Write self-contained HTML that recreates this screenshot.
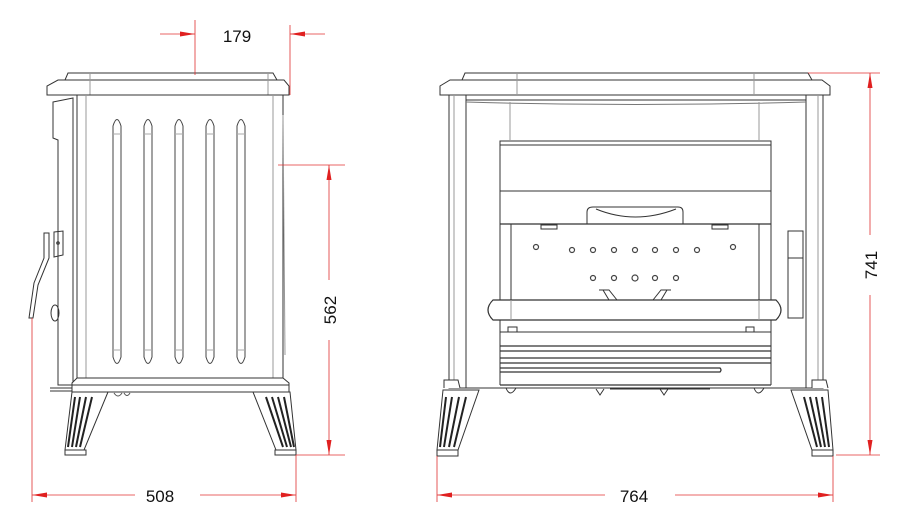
<!DOCTYPE html>
<html><head><style>html,body{margin:0;padding:0;background:#fff}svg{display:block}</style></head>
<body>
<svg width="912" height="523" viewBox="0 0 912 523" xmlns="http://www.w3.org/2000/svg" font-family="Liberation Sans, sans-serif">
<!-- ===== LEFT (side) VIEW ===== -->
<g fill="none" stroke="#333" stroke-width="1">
  <path d="M65,80 L68,73 L273,73 L277,80 Z" fill="#fff"/>
  <path d="M47,95 L47,86 L58,80 L284,80 L289,86 L289,95 Z" fill="#fff"/>
  <line x1="90" y1="73" x2="90" y2="95" stroke="#999"/>
  <line x1="268" y1="73" x2="268" y2="95" stroke="#999"/>
  <rect x="77" y="95" width="206" height="283"/>
  <line x1="86" y1="95" x2="86" y2="378" stroke="#999"/>
  <line x1="273" y1="95" x2="273" y2="378" stroke="#999"/>
  <line x1="283" y1="115" x2="285" y2="355" stroke="#999"/>
  <path d="M53,102 L73,98 L73,385 L58,385 L58,140 L53,138 Z"/>
  <line x1="77" y1="98" x2="77" y2="385"/>
  <path d="M44,233 L49,233 L49,258 L38,285 L33,318 L29,318 L34,283 L44,258 Z" fill="#fff"/>
  <path d="M54,232 L63,231 L63,255 L54,257 Z"/>
  <circle cx="58" cy="243" r="1.3"/>
  <ellipse cx="55" cy="313" rx="4" ry="8"/>
  <g stroke="#444">
    <path d="M113,357 L113,126 Q117,113 121,126 L121,357 Q117,370 113,357 Z"/>
    <path d="M144,357 L144,126 Q148,113 152,126 L152,357 Q148,370 144,357 Z"/>
    <path d="M175,357 L175,126 Q179,113 183,126 L183,357 Q179,370 175,357 Z"/>
    <path d="M206,357 L206,126 Q210,113 214,126 L214,357 Q210,370 206,357 Z"/>
    <path d="M237,357 L237,126 Q241,113 245,126 L245,357 Q241,370 237,357 Z"/>
    <g stroke="#aaa"><line x1="113" y1="134" x2="121" y2="134"/><line x1="144" y1="134" x2="152" y2="134"/><line x1="175" y1="134" x2="183" y2="134"/><line x1="206" y1="134" x2="214" y2="134"/><line x1="237" y1="134" x2="245" y2="134"/>
    <line x1="113" y1="350" x2="121" y2="350"/><line x1="144" y1="350" x2="152" y2="350"/><line x1="175" y1="350" x2="183" y2="350"/><line x1="206" y1="350" x2="214" y2="350"/><line x1="237" y1="350" x2="245" y2="350"/></g>
  </g>
  <path d="M72,392 L72,383 L77,378 L283,378 L289,383 L289,392 Z" fill="#fff"/>
  <line x1="72" y1="385" x2="289" y2="385"/>
  <line x1="50" y1="388" x2="72" y2="388"/><line x1="50" y1="391" x2="72" y2="391"/>
  <path d="M72,392 L108,392 L84,450 L65,450 Z" fill="#fff"/>
  <rect x="65" y="450" width="21" height="5"/>
  <path d="M253,392 L290,392 L296,450 L276,450 Z" fill="#fff"/>
  <rect x="275" y="450" width="21" height="5"/>
  <g stroke="#222" stroke-width="2">
    <line x1="75" y1="397" x2="68" y2="447"/><line x1="80" y1="397" x2="72" y2="447"/><line x1="86" y1="397" x2="76" y2="447"/><line x1="92" y1="397" x2="80" y2="447"/>
    <line x1="266" y1="397" x2="283" y2="447"/><line x1="272" y1="397" x2="287" y2="447"/><line x1="278" y1="397" x2="291" y2="447"/><line x1="284" y1="397" x2="294" y2="447"/>
  </g>
  <path d="M114,393 q4,6 8,0 M124,393 q3,5 6,0" stroke="#555"/>
</g>
<!-- ===== RIGHT (front) VIEW ===== -->
<g fill="none" stroke="#333" stroke-width="1">
  <path d="M462,80 L465,73 L808,73 L812,80 Z" fill="#fff"/>
  <path d="M440,95 L440,86 L450,80 L822,80 L830,86 L830,95 Z" fill="#fff"/>
  <line x1="517" y1="73" x2="517" y2="95" stroke="#999"/>
  <line x1="754" y1="73" x2="754" y2="95" stroke="#999"/>
  <rect x="449" y="95" width="17" height="293"/>
  <line x1="454" y1="95" x2="454" y2="385" stroke="#999"/>
  <rect x="806" y="95" width="17" height="293"/>
  <line x1="818" y1="95" x2="818" y2="385" stroke="#999"/>
  <path d="M466,100 L806,100" /><path d="M466,102 Q636,107 806,102" stroke="#777"/>
  <line x1="510" y1="102" x2="510" y2="140" stroke="#999"/>
  <line x1="759" y1="102" x2="759" y2="140" stroke="#999"/>
  <path d="M500,385 L500,141 L771,141 L771,385"/>
  <line x1="500" y1="145" x2="771" y2="145"/>
  <line x1="500" y1="191" x2="771" y2="191"/>
  <line x1="500" y1="224" x2="771" y2="224" stroke-width="1.3"/>
  <path d="M587,224 L587,212 Q587,207 593,207 L678,207 Q683,207 683,212 L683,224"/>
  <path d="M596,209 Q635,225 676,209"/>
  <rect x="511" y="224" width="248" height="76"/>
  <rect x="541" y="225" width="16" height="4"/><rect x="712" y="225" width="16" height="4"/>
  <g fill="#fff" stroke="#444" stroke-width="1.2">
    <circle cx="536" cy="247" r="2.5"/><circle cx="572" cy="250" r="2.5"/><circle cx="593" cy="250" r="2.5"/><circle cx="614" cy="250" r="2.5"/><circle cx="635" cy="250" r="2.5"/><circle cx="655" cy="250" r="2.5"/><circle cx="676" cy="250" r="2.5"/><circle cx="697" cy="250" r="2.5"/><circle cx="733" cy="247" r="2.5"/>
    <circle cx="593" cy="278" r="2.5"/><circle cx="614" cy="278" r="2.5"/><circle cx="635" cy="278" r="3"/><circle cx="655" cy="278" r="2.5"/><circle cx="676" cy="278" r="2.5"/>
  </g>
  <path d="M599,290 L609,290 L617,300 M603,290 L609,300 M671,290 L661,290 L653,300 M667,290 L661,300"/>
  <path d="M493,300 L776,300 Q786,310 776,320 L493,320 Q483,310 493,300 Z" fill="#fff" stroke-width="1.2"/>
  <line x1="511" y1="300" x2="511" y2="320" stroke="#999"/><line x1="759" y1="300" x2="759" y2="320" stroke="#999"/>
  <rect x="788" y="231" width="15" height="87" fill="#fff"/>
  <line x1="788" y1="258" x2="803" y2="258"/>
  <line x1="500" y1="332" x2="771" y2="332"/>
  <path d="M508,332 L508,327 L517,327 L517,332 M746,332 L746,327 L754,327 L754,332"/>
  <g stroke-width="1.3">
  <line x1="500" y1="346" x2="771" y2="346"/><line x1="500" y1="351" x2="771" y2="351"/>
  <line x1="500" y1="358" x2="771" y2="358"/><line x1="500" y1="363" x2="771" y2="363"/>
  <path d="M500,368 L720,368 Q722,370 720,372 L500,372"/>
  <line x1="500" y1="385" x2="771" y2="385"/>
  </g>
  <line x1="466" y1="388" x2="806" y2="388"/>
  <path d="M506,388 q4,10 10,0 M754,388 q4,10 10,0 M596,389 l4,6 l4,-6 M660,389 l4,6 l4,-6 M610,389 L710,389"/>
  <path d="M444,388 L444,380 L458,380 L460,388" fill="#fff"/>
  <path d="M443,390 L479,390 L458,450 L437,450 Z" fill="#fff"/>
  <rect x="437" y="450" width="21" height="6"/>
  <path d="M812,388 L812,380 L826,380 L828,388" fill="#fff"/>
  <path d="M791,390 L828,390 L833,450 L812,450 Z" fill="#fff"/>
  <rect x="812" y="450" width="21" height="6"/>
  <g stroke="#222" stroke-width="2">
    <line x1="446" y1="397" x2="440" y2="447"/><line x1="452" y1="397" x2="444" y2="447"/><line x1="459" y1="397" x2="449" y2="447"/><line x1="466" y1="397" x2="454" y2="447"/>
    <line x1="804" y1="397" x2="817" y2="447"/><line x1="810" y1="397" x2="821" y2="447"/><line x1="816" y1="397" x2="825" y2="447"/><line x1="822" y1="397" x2="829" y2="447"/>
  </g>
</g>
<!-- ===== DIMENSIONS ===== -->
<g stroke="#e03030" stroke-width="0.8" fill="none">
  <line x1="195" y1="20" x2="195" y2="75"/><line x1="290" y1="25" x2="290" y2="95"/>
  <line x1="160" y1="34" x2="195" y2="34"/>
  <line x1="325" y1="34" x2="290" y2="34"/>
  <line x1="278" y1="165" x2="345" y2="165"/><line x1="296" y1="455" x2="345" y2="455"/>
  <line x1="329" y1="280" x2="329" y2="165"/>
  <line x1="329" y1="340" x2="329" y2="455"/>
  <line x1="32" y1="318" x2="32" y2="502"/><line x1="296" y1="455" x2="296" y2="502"/>
  <line x1="135" y1="495" x2="32" y2="495"/>
  <line x1="200" y1="495" x2="296" y2="495"/>
  <line x1="437" y1="456" x2="437" y2="502"/><line x1="833" y1="456" x2="833" y2="502"/>
  <line x1="605" y1="495" x2="437" y2="495"/>
  <line x1="675" y1="495" x2="833" y2="495"/>
  <line x1="808" y1="73" x2="880" y2="73"/><line x1="836" y1="455" x2="880" y2="455"/>
  <line x1="870" y1="235" x2="870" y2="73"/>
  <line x1="870" y1="295" x2="870" y2="455"/>
</g>
<g fill="#e02020">
  <polygon points="180,31.5 195,34 180,36.5"/>
  <polygon points="305,31.5 290,34 305,36.5"/>
  <polygon points="326.5,180 329,165 331.5,180"/>
  <polygon points="326.5,440 329,455 331.5,440"/>
  <polygon points="47,492.5 32,495 47,497.5"/>
  <polygon points="281,492.5 296,495 281,497.5"/>
  <polygon points="452,492.5 437,495 452,497.5"/>
  <polygon points="818,492.5 833,495 818,497.5"/>
  <polygon points="867.5,88 870,73 872.5,88"/>
  <polygon points="867.5,440 870,455 872.5,440"/>
</g>
<g fill="#111" font-size="17">
  <text x="237" y="42" text-anchor="middle">179</text>
  <text x="160" y="502" text-anchor="middle">508</text>
  <text x="634" y="502" text-anchor="middle">764</text>
  <text transform="translate(336,310) rotate(-90)" text-anchor="middle">562</text>
  <text transform="translate(877,265) rotate(-90)" text-anchor="middle">741</text>
</g>
</svg>
</body></html>
